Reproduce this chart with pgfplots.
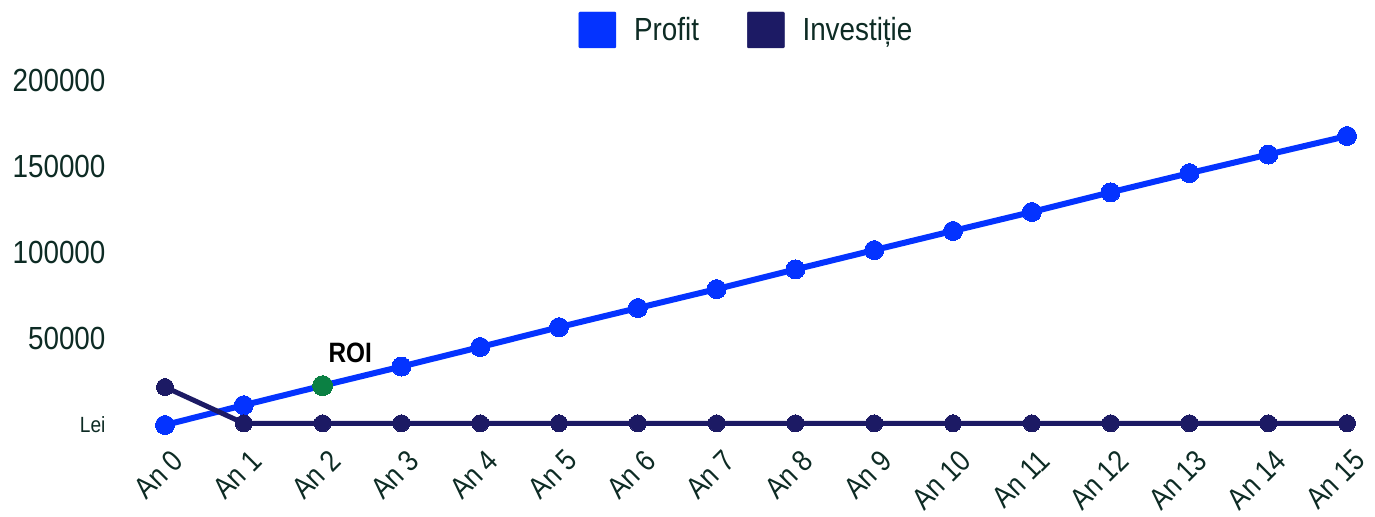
\documentclass[border=0pt]{standalone}
\usepackage{pgfplots}
\pgfplotsset{compat=1.18}
\usepackage{fontspec}
\setmainfont{Liberation Sans}[FakeStretch=0.87]
\definecolor{profit}{HTML}{0433FF}
\definecolor{invest}{HTML}{1C1A64}
\definecolor{roi}{HTML}{0B8043}
\definecolor{txt}{HTML}{0D2B24}
\begin{document}
\begin{tikzpicture}
\begin{axis}[
    scale only axis,
    width=1182pt, height=345pt,
    xmin=0, xmax=15, ymin=0, ymax=200000,
    clip=false,
    scaled y ticks=false,
    axis line style={draw=none},
    tick style={draw=none},
    xtick={0,...,15},
    xticklabels={An 0,An 1,An 2,An 3,An 4,An 5,An 6,An 7,An 8,An 9,An 10,An 11,An 12,An 13,An 14,An 15},
    xticklabel style={xshift=15pt, yshift=-28pt, rotate=45, anchor=east, font=\fontsize{30}{30}\selectfont, text=txt},
    ytick={0,50000,100000,150000,200000},
    yticklabels={{\fontsize{22}{22}\selectfont Lei},50000,100000,150000,200000},
    yticklabel style={anchor=east, font=\fontsize{32}{32}\selectfont, text=txt, xshift=-56pt},
    legend columns=2,
    legend style={draw=none, at={(0.492,1.145)}, anchor=center,
        font=\fontsize{32}{32}\selectfont, text=txt,
        /tikz/every even column/.append style={column sep=46pt}},
]
\addlegendimage{legend image code/.code={\fill[profit,rounded corners=1pt] (0pt,-18pt) rectangle (37pt,18pt); \path (53pt,0pt);}}
\addlegendentry{Profit}
\addlegendimage{legend image code/.code={\fill[invest,rounded corners=1pt] (0pt,-18pt) rectangle (37pt,18pt); \path (53pt,0pt);}}
\addlegendentry{Investiție}

\addplot[forget plot, profit, line width=6pt, mark=*, mark size=9.5pt, mark options={line width=0pt}] coordinates {
    (0,0) (1,11500) (2,22800) (3,33900) (4,45200) (5,56700) (6,67800) (7,78800) (8,90200) (9,101400)
    (10,112500) (11,123500) (12,134900) (13,146000) (14,156800) (15,167500)};
\addplot[forget plot, invest, line width=5pt, mark=*, mark size=8.5pt, mark options={line width=0pt}] coordinates {
    (0,22000) (1,1000) (2,1000) (3,1000) (4,1000) (5,1000) (6,1000) (7,1000) (8,1000) (9,1000)
    (10,1000) (11,1000) (12,1000) (13,1000) (14,1000) (15,1000)};
\addplot[forget plot, only marks, roi, mark=*, mark size=10pt, mark options={line width=0pt}] coordinates {(2,22800)};
\node[font=\bfseries\fontsize{28}{28}\selectfont, text=black] at (axis cs:2.35,42000) {ROI};

\coordinate (bl) at (axis cs:-2.094,-52754);
\coordinate (tr) at (axis cs:15.355,246377);
\end{axis}
\pgfresetboundingbox
\path[use as bounding box] (bl) rectangle (tr);
\end{tikzpicture}
\end{document}
